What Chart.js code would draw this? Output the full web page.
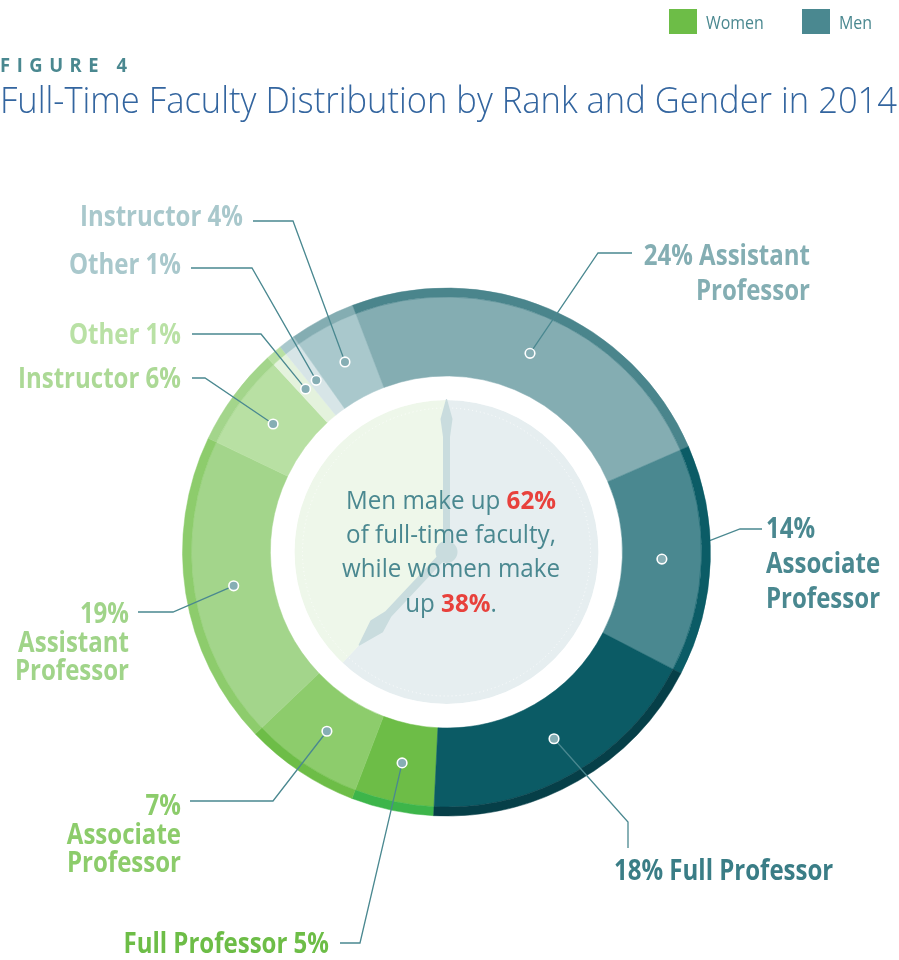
<!DOCTYPE html>
<html><head><meta charset="utf-8">
<script src="https://cdn.jsdelivr.net/npm/chart.js@4.4.1/dist/chart.umd.min.js"></script>
<style>
html,body{margin:0;padding:0;background:#fff;width:899px;height:960px;overflow:hidden}
#wrap{position:absolute;left:0;top:0;width:899px;height:960px}
</style>
</head><body><div id="wrap"><canvas id="c" width="899" height="960"></canvas></div>
<script>
// ---- DATA ----
const categories = ['Full Professor','Associate Professor','Assistant Professor','Instructor','Other','Other','Instructor','Assistant Professor','Associate Professor','Full Professor'];
const genders    = ['Women','Women','Women','Women','Women','Men','Men','Men','Men','Men'];
const shares     = [5, 7, 19, 6, 1, 1, 4, 24, 14, 18];
const totalGroups = ['Men','Women'];
const totalShares = [62, 38];
const legendLabels = ['Women','Men'];
const figureLabel = 'FIGURE 4';
const titleText = 'Full-Time Faculty Distribution by Rank and Gender in 2014';

// ---- STYLES ----
const mainColors = ['#6dbd47','#8dcc6c','#a3d58b','#b8e0a3','#e4f2dd','#d7e5e7','#a9c8cc','#84adb2','#4a8890','#0b5b65'];
const bandColors = ['#3db54a','#6dbd47','#8dcc6c','#a3d58b','#b8e0a3','#a9c8cc','#84adb2','#4a858c','#0b5c66','#063f48'];
const labelColors = ['#6dbd47','#8ccc6b','#a0d489','#acd996','#b9e1a5','#a9c8cc','#a9c8cc','#84aeb3','#4a8890','#3a7d86'];
const innerColors = ['#e6eef0','#eef7ea'];
const legendColors = ['#6dbd47','#4a8890'];

// label text lines built from data
const labelLines = [
  [categories[0] + ' ' + shares[0] + '%'],
  [shares[1] + '%', 'Associate', 'Professor'],
  [shares[2] + '%', 'Assistant', 'Professor'],
  [categories[3] + ' ' + shares[3] + '%'],
  [categories[4] + ' ' + shares[4] + '%'],
  [categories[5] + ' ' + shares[5] + '%'],
  [categories[6] + ' ' + shares[6] + '%'],
  [shares[7] + '% Assistant', 'Professor'],
  [shares[8] + '%', 'Associate', 'Professor'],
  [shares[9] + '% ' + categories[9]]
];
// label layout: anchor x, baselines, align, leader path (text end -> elbow), under ring?
const labelLayout = [
  {x:329, ys:[953], align:'right', path:[[340,943],[360,943]]},
  {x:181, ys:[815,844,872], align:'right', path:[[190,801],[273,801]]},
  {x:129, ys:[623,652,680], align:'right', path:[[138,612],[173,612]]},
  {x:181, ys:[388], align:'right', path:[[192,378],[205,378]]},
  {x:181, ys:[344], align:'right', path:[[192,334],[261,334]]},
  {x:181, ys:[274], align:'right', path:[[191,268],[252,268]]},
  {x:243, ys:[226], align:'right', path:[[253,221],[293,221]]},
  {x:810, ys:[265,300], align:'right', path:[[632,253],[598,253]]},
  {x:766, ys:[538,573,608], align:'left', path:[[762,529],[740,529]], under:true},
  {x:614, ys:[880], align:'left', path:[[628,848],[628,822]]}
];

function drawText(ctx, s, x, y, align, font, color, sx){
  ctx.save();
  ctx.font = font; ctx.fillStyle = color; ctx.textBaseline = 'alphabetic'; ctx.textAlign = 'left';
  const w = ctx.measureText(s).width * sx;
  const x0 = align === 'right' ? x - w : (align === 'center' ? x - w/2 : x);
  ctx.translate(x0, y); ctx.scale(sx, 1); ctx.fillText(s, 0, 0);
  ctx.restore();
  return w;
}
function measure(ctx, s, font){ ctx.save(); ctx.font = font; const w = ctx.measureText(s).width; ctx.restore(); return w; }

function dotPos(arc){
  const p = arc.getProps(['x','y','startAngle','endAngle','innerRadius','outerRadius'], true);
  const a = (p.startAngle + p.endAngle) / 2;
  const r = (p.innerRadius + p.outerRadius) / 2;
  return [p.x + Math.cos(a) * r, p.y + Math.sin(a) * r];
}

function drawLeader(ctx, i, arc){
  const L = labelLayout[i];
  const d = dotPos(arc);
  ctx.save();
  ctx.strokeStyle = '#4a8890'; ctx.lineWidth = 1.3; ctx.lineJoin = 'miter';
  ctx.beginPath();
  ctx.moveTo(L.path[0][0], L.path[0][1]);
  ctx.lineTo(L.path[1][0], L.path[1][1]);
  ctx.lineTo(d[0], d[1]);
  ctx.stroke();
  ctx.restore();
}

const LABEL_FONT = '700 28px "Open Sans"';
const CENTER_FONT = '400 25px "Open Sans"';
const CENTER_BOLD = '700 25px "Open Sans"';

const deco = {
  id: 'deco',
  beforeDatasetsDraw(chart){
    const ctx = chart.ctx;
    const meta = chart.getDatasetMeta(1);
    labelLayout.forEach((L, i) => { if (L.under) drawLeader(ctx, i, meta.data[i]); });
  },
  afterDatasetsDraw(chart){
    const ctx = chart.ctx;
    const meta = chart.getDatasetMeta(1);
    const inner = chart.getDatasetMeta(3);
    const a0 = inner.data[0].getProps(['x','y','startAngle','endAngle','outerRadius'], true);
    const cx = a0.x, cy = a0.y;

    // faint dotted ring inside inner circle
    ctx.save();
    ctx.strokeStyle = 'rgba(255,255,255,0.8)'; ctx.lineWidth = 1; ctx.setLineDash([1,3]);
    ctx.beginPath(); ctx.arc(cx, cy, a0.outerRadius - 8, 0, Math.PI*2); ctx.stroke();
    ctx.restore();

    // clock hands from inner pie boundaries
    const handColor = '#c9dcde';
    function hand(angle, pts){
      ctx.save();
      ctx.translate(cx, cy); ctx.rotate(angle);
      ctx.fillStyle = handColor;
      ctx.beginPath();
      pts.forEach((p, k) => { if (k === 0) ctx.moveTo(p[0], p[1]); else ctx.lineTo(p[0], p[1]); });
      for (let k = pts.length - 1; k >= 0; k--) ctx.lineTo(pts[k][0], -pts[k][1]);
      ctx.closePath(); ctx.fill();
      ctx.restore();
    }
    // minute hand at start of men (top)
    hand(a0.startAngle, [[0,3.5],[115,3.5],[133,6],[153,0.5]]);
    // hour hand at men/women boundary
    hand(a0.endAngle, [[0,4],[85,4],[102,8.5],[128,0.5]]);
    ctx.save(); ctx.fillStyle = handColor; ctx.beginPath(); ctx.arc(cx, cy, 11, 0, Math.PI*2); ctx.fill(); ctx.restore();

    // leader lines over ring
    labelLayout.forEach((L, i) => { if (!L.under) drawLeader(ctx, i, meta.data[i]); });
    // dots
    meta.data.forEach(arc => {
      const d = dotPos(arc);
      ctx.save();
      ctx.fillStyle = '#86aeb4'; ctx.strokeStyle = '#ffffff'; ctx.lineWidth = 1.6;
      ctx.beginPath(); ctx.arc(d[0], d[1], 4.8, 0, Math.PI*2); ctx.fill(); ctx.stroke();
      ctx.restore();
    });

    // segment labels
    const sx = 163 / measure(ctx, 'Instructor 4%', LABEL_FONT);
    labelLayout.forEach((L, i) => {
      labelLines[i].forEach((s, k) => drawText(ctx, s, L.x, L.ys[k], L.align, LABEL_FONT, labelColors[i], sx));
    });

    // center text
    const red = '#e8413c', teal = '#4a8890';
    const lines = [
      [['Men make up ', false], [totalShares[0] + '%', true]],
      [['of full-time faculty,', false]],
      [['while women make', false]],
      [['up ', false], [totalShares[1] + '%', true], ['.', false]]
    ];
    const ys = [509, 543, 577, 612];
    const lw = runs => runs.reduce((s, r) => s + measure(ctx, r[0], r[1] ? CENTER_BOLD : CENTER_FONT), 0);
    const csx = 210 / lw(lines[0]);
    lines.forEach((runs, k) => {
      let x = 451 - lw(runs) * csx / 2;
      runs.forEach(r => {
        x += drawText(ctx, r[0], x, ys[k], 'left', r[1] ? CENTER_BOLD : CENTER_FONT, r[1] ? red : teal, csx);
      });
    });

    // title
    const TFONT = '300 36px "Open Sans"';
    drawText(ctx, titleText, 0, 113, 'left', TFONT, '#33659f', 897 / measure(ctx, titleText, TFONT));
    // FIGURE 4 letter-spaced
    const FFONT = '700 20px "Open Sans"';
    const chars = figureLabel.split('');
    const cw = chars.map(c => measure(ctx, c, FFONT) * 0.92);
    const sumw = cw.reduce((a, b) => a + b, 0);
    const gap = (127 - sumw) / (chars.length - 1);
    let fx = 0;
    chars.forEach((c, k) => { drawText(ctx, c, fx, 72, 'left', FFONT, '#4a8890', 0.92); fx += cw[k] + gap; });

    // legend
    const LFONT = '400 19px "Open Sans"';
    const lx = [669, 802];
    legendLabels.forEach((s, k) => {
      ctx.save(); ctx.fillStyle = legendColors[k]; ctx.fillRect(lx[k], 9, 28, 25); ctx.restore();
      drawText(ctx, s, lx[k] + 37, 29, 'left', LFONT, '#4a8890', 0.84);
    });
  }
};

const ctx = document.getElementById('c').getContext('2d');
new Chart(ctx, {
  type: 'doughnut',
  data: {
    labels: categories.map((c, i) => genders[i] + ' ' + c),
    datasets: [
      { data: shares, backgroundColor: bandColors, borderColor: bandColors, borderWidth: 0.5, weight: 9, rotation: 182.8 },
      { data: shares, backgroundColor: mainColors, borderColor: mainColors, borderWidth: 0.5, weight: 79, rotation: 182.8 },
      { data: [1], backgroundColor: ['#ffffff'], borderColor: ['#ffffff'], borderWidth: 0, weight: 24, rotation: 0 },
      { data: totalShares, backgroundColor: innerColors, borderColor: innerColors, borderWidth: 0.5, weight: 152, rotation: 0 }
    ]
  },
  options: {
    responsive: false,
    animation: false,
    events: [],
    cutout: 0,
    radius: 264,
    hoverOffset: 0,
    layout: { padding: { left: 0, right: 6, top: 144, bottom: 0 } },
    plugins: { legend: { display: false }, tooltip: { enabled: false }, title: { display: false } }
  },
  plugins: [deco]
});
</script>
</body></html>
